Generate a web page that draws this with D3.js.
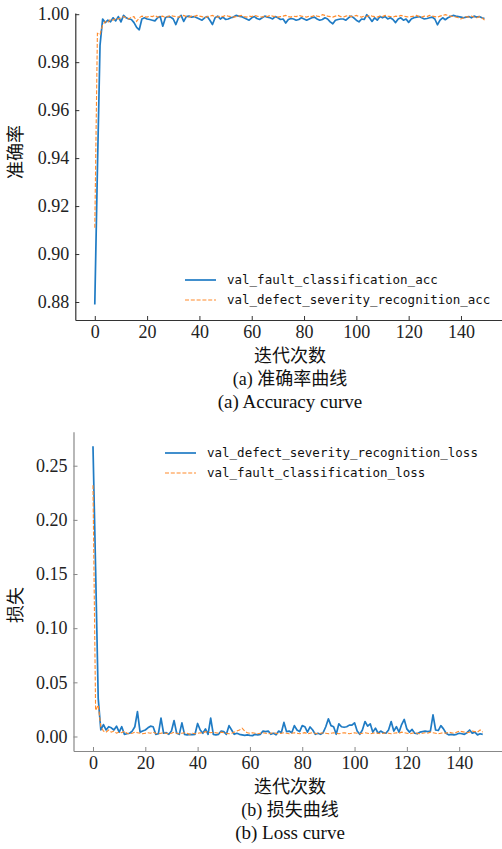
<!DOCTYPE html>
<html>
<head>
<meta charset="utf-8">
<script src="https://cdn.jsdelivr.net/npm/d3@7"></script>
<style>
  body { margin: 0; background: #fff; }
  .cn { font-family: "Liberation Serif", "Noto Sans CJK SC", serif; fill: #111; }
  .legend text { font-family: "DejaVu Sans Mono", monospace; font-size: 12.5px; fill: #111; }
</style>
</head>
<body>
<svg width="502" height="849"></svg>
<script>
// epochs 0..149
const epochs = d3.range(0, 150);

const xTicks = [0, 20, 40, 60, 80, 100, 120, 140];
const accTicks = [0.88, 0.90, 0.92, 0.94, 0.96, 0.98, 1.00];
const lossTicks = [0.00, 0.05, 0.10, 0.15, 0.20, 0.25];

const valFaultAcc = [
  0.879, 0.935, 0.987, 0.998, 0.9965, 0.9975, 0.9968, 0.9985, 0.9972, 0.999,
  0.9968, 0.9995, 0.9985, 0.998, 0.9978, 0.9965, 0.9945, 0.9935, 0.998, 0.9985,
  0.998, 0.9978, 0.9975, 0.9972, 0.9985, 0.999, 0.995, 0.9985, 0.999, 0.9988,
  0.998, 0.9957, 0.9985, 0.9995, 0.997, 0.999, 0.9992, 0.9988, 0.999, 0.9985,
  0.998, 0.9975, 0.9985, 0.999, 0.9975, 0.9957, 0.9985, 0.9992, 0.998, 0.9988,
  0.9978, 0.998, 0.9985, 0.9988, 0.9995, 0.9992, 0.999, 0.9985, 0.998, 0.9975,
  0.9985, 0.999, 0.9982, 0.9978, 0.9985, 0.9992, 0.9988, 0.9985, 0.998, 0.999,
  0.9985, 0.9978, 0.998, 0.9963, 0.9978, 0.9982, 0.998, 0.9975, 0.9978, 0.9985,
  0.998, 0.9975, 0.998, 0.9985, 0.9988, 0.998, 0.9975, 0.9978, 0.9985, 0.998,
  0.9968, 0.996, 0.9975, 0.9978, 0.998, 0.998, 0.9975, 0.9985, 0.9992, 0.9985,
  0.9975, 0.9968, 0.998, 0.9978, 0.9998, 0.9985, 0.997, 0.9985, 0.9975, 0.999,
  0.9985, 0.999, 0.998, 0.9985, 0.9978, 0.9965, 0.998, 0.9985, 0.9975, 0.998,
  0.9966, 0.998, 0.9985, 0.9988, 0.999, 0.9985, 0.998, 0.9982, 0.9985, 0.9988,
  0.998, 0.9956, 0.9975, 0.9985, 0.9977, 0.9985, 0.999, 0.9995, 0.9992, 0.999,
  0.9988, 0.9985, 0.9988, 0.999, 0.9985, 0.9992, 0.9988, 0.999, 0.9985, 0.9982
];

const valDefectAcc = [
  0.911, 0.992, 0.9915, 0.9955, 0.997, 0.9965, 0.998, 0.9975, 0.9982, 0.998,
  0.9985, 0.999, 0.9985, 0.998, 0.9988, 0.999, 0.997, 0.9985, 0.9992, 0.999,
  0.9988, 0.9992, 0.999, 0.9995, 0.9988, 0.999, 0.9992, 0.9985, 0.999, 0.9995,
  0.9992, 0.999, 0.9988, 0.9992, 0.9995, 0.999, 0.9988, 0.9992, 0.999, 0.9995,
  0.9992, 0.999, 0.9985, 0.999, 0.9992, 0.9995, 0.999, 0.9988, 0.9992, 0.999,
  0.9995, 0.9992, 0.999, 0.9988, 0.999, 0.9992, 0.9995, 0.999, 0.9988, 0.9992,
  0.999, 0.9995, 0.9992, 0.999, 0.9988, 0.9992, 0.999, 0.9995, 0.9992, 0.999,
  0.9988, 0.999, 0.9992, 0.9995, 0.999, 0.9988, 0.9992, 0.999, 0.9995, 0.9992,
  0.999, 0.9988, 0.9992, 0.999, 0.9995, 0.9992, 0.999, 0.9998, 0.9995, 0.9992,
  0.999, 0.9988, 0.9992, 0.9995, 0.999, 0.9988, 0.9992, 0.9995, 0.999, 0.9992,
  0.9995, 0.999, 0.9988, 0.9992, 0.999, 0.9995, 0.9992, 0.999, 0.9988, 0.9992,
  0.999, 0.9995, 0.9992, 0.999, 0.9988, 0.9992, 0.999, 0.9995, 0.9992, 0.999,
  0.9988, 0.999, 0.9992, 0.9995, 0.999, 0.9988, 0.9992, 0.999, 0.9995, 0.9992,
  0.999, 0.9988, 0.9992, 0.9995, 0.9998, 0.9995, 0.9992, 0.999, 0.9988, 0.9985,
  0.998, 0.9985, 0.999, 0.9988, 0.9992, 0.9988, 0.9985, 0.999, 0.9985, 0.9975
];

const valDefectLoss = [
  0.268, 0.155, 0.035, 0.006, 0.011, 0.006, 0.009, 0.008, 0.006, 0.0095,
  0.004, 0.009, 0.002, 0.0025, 0.003, 0.005, 0.009, 0.023, 0.004, 0.005,
  0.006, 0.008, 0.0095, 0.009, 0.002, 0.0025, 0.017, 0.003, 0.0035, 0.002,
  0.005, 0.0147, 0.003, 0.002, 0.0126, 0.002, 0.0015, 0.002, 0.0018, 0.002,
  0.012, 0.006, 0.003, 0.007, 0.002, 0.017, 0.002, 0.0015, 0.002, 0.005,
  0.0045, 0.002, 0.010, 0.006, 0.002, 0.003, 0.002, 0.0015, 0.001, 0.0015,
  0.001, 0.0008, 0.002, 0.0015, 0.002, 0.005, 0.0045, 0.005, 0.002, 0.003,
  0.0015, 0.005, 0.0035, 0.013, 0.0045, 0.005, 0.0035, 0.010, 0.006, 0.0045,
  0.010, 0.009, 0.004, 0.0088, 0.006, 0.002, 0.003, 0.002, 0.0035, 0.009,
  0.0163, 0.010, 0.009, 0.002, 0.0117, 0.009, 0.0085, 0.009, 0.0105, 0.0104,
  0.0126, 0.005, 0.002, 0.006, 0.0138, 0.0095, 0.0117, 0.004, 0.0077, 0.003,
  0.005, 0.0035, 0.003, 0.006, 0.0138, 0.005, 0.009, 0.004, 0.011, 0.0157,
  0.007, 0.004, 0.0065, 0.003, 0.0025, 0.004, 0.0045, 0.005, 0.0045, 0.005,
  0.020, 0.006, 0.0055, 0.010, 0.007, 0.003, 0.0015, 0.002, 0.0015, 0.002,
  0.003, 0.0025, 0.002, 0.0035, 0.006, 0.003, 0.004, 0.0015, 0.0025, 0.002
];

const valFaultLoss = [
  0.232, 0.024, 0.029, 0.009, 0.005, 0.004, 0.006, 0.004, 0.005, 0.003,
  0.004, 0.0035, 0.005, 0.003, 0.0025, 0.003, 0.004, 0.0035, 0.003, 0.0025,
  0.003, 0.0035, 0.003, 0.004, 0.003, 0.0025, 0.003, 0.0035, 0.003, 0.0025,
  0.003, 0.004, 0.003, 0.0025, 0.003, 0.0035, 0.003, 0.002, 0.003, 0.0025,
  0.003, 0.0035, 0.003, 0.0045, 0.004, 0.0035, 0.004, 0.0035, 0.003, 0.004,
  0.0035, 0.003, 0.0025, 0.003, 0.004, 0.005, 0.006, 0.0077, 0.005, 0.0035,
  0.003, 0.0035, 0.003, 0.0025, 0.003, 0.0035, 0.003, 0.0025, 0.003, 0.0035,
  0.003, 0.0025, 0.003, 0.0035, 0.003, 0.0025, 0.003, 0.0035, 0.003, 0.0025,
  0.003, 0.0035, 0.0025, 0.003, 0.0035, 0.003, 0.0025, 0.003, 0.0035, 0.003,
  0.0025, 0.003, 0.0035, 0.003, 0.0025, 0.003, 0.0035, 0.003, 0.0025, 0.003,
  0.0035, 0.003, 0.0025, 0.003, 0.0035, 0.003, 0.0025, 0.003, 0.0035, 0.003,
  0.0025, 0.003, 0.0035, 0.003, 0.0025, 0.003, 0.0035, 0.003, 0.004, 0.0035,
  0.003, 0.0025, 0.003, 0.0035, 0.003, 0.0025, 0.003, 0.0035, 0.003, 0.004,
  0.0035, 0.003, 0.0025, 0.003, 0.0035, 0.003, 0.004, 0.0035, 0.003, 0.004,
  0.005, 0.0045, 0.004, 0.0035, 0.004, 0.005, 0.0045, 0.004, 0.006, 0.004
];

const blue = "#1f7bc4";
const orange = "#ff8a2a";

const svg = d3.select("svg");

function drawPanel(cfg) {
  let g = svg.append("g");

  let x = d3.scaleLinear().domain([-7.45, 156.45]).range(cfg.xRange);
  let y = d3.scaleLinear().domain(cfg.yDomain).range(cfg.yRange);

  // lines
  let line = d3.line()
    .x(function(d, i) { return x(epochs[i]); })
    .y(function(d) { return y(d); });

  g.append("path")
    .datum(cfg.series[0].values)
    .attr("fill", "none")
    .attr("stroke", blue)
    .attr("stroke-width", 1.7)
    .attr("stroke-linejoin", "round")
    .attr("d", line);

  g.append("path")
    .datum(cfg.series[1].values)
    .attr("fill", "none")
    .attr("stroke", orange)
    .attr("stroke-width", 1.1)
    .attr("stroke-dasharray", "4,1.8")
    .attr("d", line);

  // axes, inward ticks, no top/right spines
  let yAxis = g.append("g")
    .attr("transform", "translate(" + cfg.xRange[0] + ",0)")
    .call(d3.axisLeft(y).tickValues(cfg.yTicks).tickFormat(d3.format(".2f"))
      .tickSizeInner(-4).tickSizeOuter(0).tickPadding(6));

  let xAxis = g.append("g")
    .attr("transform", "translate(0," + cfg.yRange[0] + ")")
    .call(d3.axisBottom(x).tickValues(xTicks).tickFormat(d3.format("d"))
      .tickSizeInner(-4).tickSizeOuter(0).tickPadding(5));

  [xAxis, yAxis].forEach(function(a) {
    a.attr("font-family", "Liberation Serif").attr("font-size", 18);
    a.select(".domain").attr("stroke", cfg.spine).attr("stroke-width", 1.2);
    a.selectAll(".tick line").attr("stroke", cfg.spine);
    a.selectAll(".tick text")
      .style("font-family", "'Liberation Serif', 'Times New Roman', serif")
      .style("font-size", "18px")
      .attr("fill", "#222");
  });

  // labels
  svg.append("text")
    .attr("class", "cn")
    .attr("transform", "translate(" + 22 + "," + cfg.yLabelY + ") rotate(-90)")
    .attr("text-anchor", "middle")
    .attr("font-size", "18px")
    .text(cfg.yLabel);

  svg.append("text")
    .attr("class", "cn")
    .attr("x", 290)
    .attr("y", cfg.captionY[0])
    .attr("text-anchor", "middle")
    .attr("font-size", "18px")
    .text("迭代次数");

  svg.append("text")
    .attr("class", "cn")
    .attr("x", 290)
    .attr("y", cfg.captionY[1])
    .attr("text-anchor", "middle")
    .attr("font-size", "18px")
    .text(cfg.captionCn);

  svg.append("text")
    .attr("class", "cn")
    .attr("x", 290)
    .attr("y", cfg.captionY[2])
    .attr("text-anchor", "middle")
    .attr("font-size", "19px")
    .text(cfg.captionEn);

  // legend
  let leg = svg.append("g").attr("class", "legend");
  cfg.series.forEach(function(s, i) {
    let ly = cfg.legend.y + i * 20;
    leg.append("line")
      .attr("x1", cfg.legend.x).attr("x2", cfg.legend.x + 31)
      .attr("y1", ly).attr("y2", ly)
      .attr("stroke", i === 0 ? blue : orange)
      .attr("stroke-width", i === 0 ? 1.7 : 1.1)
      .attr("stroke-dasharray", i === 0 ? null : "4,1.8");
    leg.append("text")
      .attr("x", cfg.legend.x + 42)
      .attr("y", ly)
      .attr("dy", "0.35em")
      .text(s.name);
  });
}

drawPanel({
  xRange: [75.3, 504],
  yDomain: [0.8725, 1.0005],
  yRange: [320, 13],
  yTicks: accTicks,
  spine: "#333",
  yLabel: "准确率",
  yLabelY: 152,
  captionY: [362, 385, 408],
  captionCn: "(a) 准确率曲线",
  captionEn: "(a) Accuracy curve",
  legend: { x: 185, y: 280 },
  series: [
    { name: "val_fault_classification_acc", values: valFaultAcc },
    { name: "val_defect_severity_recognition_acc", values: valDefectAcc }
  ]
});

drawPanel({
  xRange: [73.5, 502.2],
  yDomain: [-0.0134, 0.2814],
  yRange: [751, 431.7],
  yTicks: lossTicks,
  spine: "#888",
  yLabel: "损失",
  yLabelY: 605,
  captionY: [793, 816, 839],
  captionCn: "(b) 损失曲线",
  captionEn: "(b) Loss curve",
  legend: { x: 165, y: 453 },
  series: [
    { name: "val_defect_severity_recognition_loss", values: valDefectLoss },
    { name: "val_fault_classification_loss", values: valFaultLoss }
  ]
});
</script>
</body>
</html>
